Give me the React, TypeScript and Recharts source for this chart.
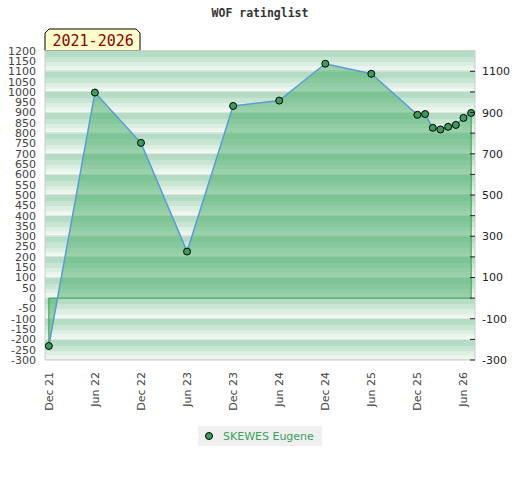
import React from 'react';
import {
  ComposedChart, Area, Line, XAxis, YAxis, ReferenceArea, ReferenceLine, Legend, Customized,
} from 'recharts';

// month index (0 = Dec 2021)
const months = [0, 6, 12, 18, 24, 30, 36, 42, 48, 49, 50, 51, 52, 53, 54, 55];
const ratings = [-232, 997, 753, 226, 932, 958, 1137, 1088, 889, 893, 826, 818, 831, 840, 874, 898];
const xTicks = [0, 6, 12, 18, 24, 30, 36, 42, 48, 54];
const xTickLabels = ['Dec 21', 'Jun 22', 'Dec 22', 'Jun 23', 'Dec 23', 'Jun 24', 'Dec 24', 'Jun 25', 'Dec 25', 'Jun 26'];
const leftTicks = [-300, -250, -200, -150, -100, -50, 0, 50, 100, 150, 200, 250, 300, 350, 400, 450, 500, 550, 600, 650, 700, 750, 800, 850, 900, 950, 1000, 1050, 1100, 1150, 1200];
const rightTicks = [-300, -200, -100, 0, 100, 200, 300, 400, 500, 600, 700, 800, 900, 1000, 1100];
const rightLabelled = [-300, -100, 100, 300, 500, 700, 900, 1100];
const bandStarts = [-300, -200, -100, 0, 100, 200, 300, 400, 500, 600, 700, 800, 900, 1000, 1100];
const seriesName = 'SKEWES Eugene';
const title = 'WOF ratinglist';
const period = '2021-2026';

const data = months.map((m, i) => ({ m, rating: ratings[i] }));
const first = data[0];
const last = data[data.length - 1];

const XTick = (props: any) => {
  const { x, y, payload } = props;
  const idx = xTicks.indexOf(payload.value);
  return (
    <text x={x} y={y} transform={`rotate(-90 ${x} ${y})`} textAnchor="end" dy="0.36em"
      fontFamily="DejaVu Sans" fontSize={11} fill="#444">
      {idx >= 0 ? xTickLabels[idx] : ''}
    </text>
  );
};

const RightTick = (props: any) => {
  const { x, y, payload } = props;
  const show = rightLabelled.includes(payload.value);
  return (
    <g>
      <line x1={x - 12} x2={x - 7} y1={y} y2={y} stroke="#222" strokeWidth={1} />
      {show && (
        <text x={x} y={y} dy="0.36em" textAnchor="start" fontFamily="DejaVu Sans" fontSize={11} fill="#222">
          {payload.value}
        </text>
      )}
    </g>
  );
};

const Decor = () => (
  <g>
    <text x={260} y={17} textAnchor="middle" fontFamily="DejaVu Sans Mono" fontWeight="bold" fontSize={11.5} fill="#333">
      {title}
    </text>
    <polygon points="45,50.5 45,33 49,29 136,29 140,33 140,50.5" fill="#ffffcc" stroke="#000" strokeWidth={1} />
    <text x={52.5} y={46} fontFamily="DejaVu Sans Mono" fontSize={15} fill="#8b0000">{period}</text>
  </g>
);

const LegendContent = () => (
  <div style={{
    width: 124, height: 20, background: '#f0f0f0', display: 'flex', alignItems: 'center',
    fontFamily: 'DejaVu Sans', fontSize: 11, color: '#3aa05a', boxSizing: 'border-box',
  }}>
    <svg width={22} height={20} style={{ display: 'block' }}>
      <circle cx={11} cy={10} r={3.5} fill="#3a9d5d" stroke="#000" strokeWidth={1} />
    </svg>
    <span style={{ marginLeft: 3 }}>{seriesName}</span>
  </div>
);

export default function App() {
  return (
    <div style={{ position: 'absolute', left: 0, top: 0, width: 520, height: 480, background: '#fff' }}>
      <ComposedChart width={520} height={480} data={data}
        margin={{ top: 50.7, right: 0, left: 0, bottom: 70 }}>
        <defs>
          <linearGradient id="bandGrad" x1="0" y1="0" x2="0" y2="1">
            <stop offset="0%" stopColor="#b3dcc3" />
            <stop offset="30%" stopColor="#b6ddc5" />
            <stop offset="30%" stopColor="#c6e5d1" />
            <stop offset="55%" stopColor="#c9e6d3" />
            <stop offset="55%" stopColor="#daeee1" />
            <stop offset="75%" stopColor="#ddefe3" />
            <stop offset="75%" stopColor="#e8f4ec" />
            <stop offset="88%" stopColor="#eaf5ee" />
            <stop offset="88%" stopColor="#f1f8f3" />
            <stop offset="96%" stopColor="#f2f8f4" />
            <stop offset="96%" stopColor="#dde2de" />
            <stop offset="100%" stopColor="#dde2de" />
          </linearGradient>
        </defs>
        <XAxis dataKey="m" type="number" domain={[-0.5, 55.5]} ticks={xTicks} interval={0}
          height={50} tickLine={false} tickSize={0} tickMargin={12} tick={<XTick />}
          axisLine={{ stroke: '#cccccc' }} allowDataOverflow />
        <YAxis yAxisId="left" orientation="left" width={45} domain={[-300, 1200]} ticks={leftTicks}
          interval={0} tickLine={false} tickSize={0} tickMargin={9} allowDataOverflow
          tick={{ fontFamily: 'DejaVu Sans', fontSize: 11, fill: '#444' }} axisLine={{ stroke: '#cccccc' }} />
        <YAxis yAxisId="right" orientation="right" width={45} domain={[-300, 1200]} ticks={rightTicks}
          interval={0} tickLine={false} tickSize={0} tickMargin={7} allowDataOverflow
          tick={<RightTick />} axisLine={{ stroke: '#cccccc' }} />
        {bandStarts.map((b) => (
          <ReferenceArea key={b} yAxisId="left" y1={b} y2={b + 100} fill="url(#bandGrad)" fillOpacity={1}
            stroke="none" ifOverflow="visible" zIndex={-200} />
        ))}
        <ReferenceLine yAxisId="left" y={1200} stroke="#cccccc" ifOverflow="visible" />
        <Area yAxisId="left" dataKey="rating" type="linear" baseValue={0} fill="#46ac66" fillOpacity={0.5}
          stroke="none" dot={false} activeDot={false} isAnimationActive={false} legendType="none" />
        <ReferenceLine yAxisId="left" segment={[{ x: first.m, y: 0 }, { x: last.m, y: 0 }]} stroke="#33a04a" strokeWidth={1} ifOverflow="visible" />
        <ReferenceLine yAxisId="left" segment={[{ x: first.m, y: 0 }, { x: first.m, y: first.rating }]} stroke="#33a04a" strokeWidth={1} ifOverflow="visible" />
        <ReferenceLine yAxisId="left" segment={[{ x: last.m, y: 0 }, { x: last.m, y: last.rating }]} stroke="#33a04a" strokeWidth={1} ifOverflow="visible" />
        <Line yAxisId="left" dataKey="rating" name={seriesName} type="linear" stroke="#5b9bd5" strokeWidth={1.5}
          dot={{ r: 3.5, fill: '#3a9d5d', stroke: '#000', strokeWidth: 1 }} activeDot={false}
          isAnimationActive={false} />
        <Legend layout="horizontal" verticalAlign="middle" align="center" content={<LegendContent />}
          wrapperStyle={{ position: 'absolute', left: 198, top: 426, width: 124, height: 20 }} />
        <Customized component={<Decor />} />
      </ComposedChart>
    </div>
  );
}
